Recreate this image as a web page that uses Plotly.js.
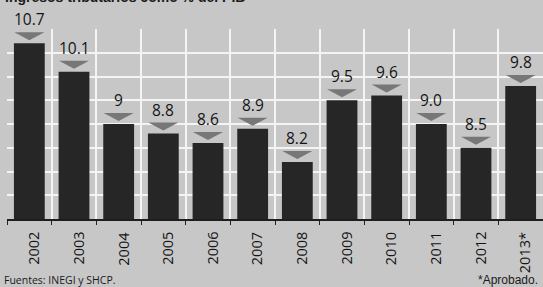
<!DOCTYPE html>
<html>
<head>
<meta charset="utf-8">
<script src="https://cdn.plot.ly/plotly-3.0.1.min.js"></script>
<style>html,body{margin:0;padding:0;background:#c7c7c7;}#chart{width:543px;height:287px;}</style>
</head>
<body>
<div id="chart"></div>
<script>
const years = ["2002","2003","2004","2005","2006","2007","2008","2009","2010","2011","2012","2013*"];
const values = [10.7, 10.1, 9.0, 8.8, 8.6, 8.9, 8.2, 9.5, 9.6, 9.0, 8.5, 9.8];
const valueLabels = ["10.7","10.1","9","8.8","8.6","8.9","8.2","9.5","9.6","9.0","8.5","9.8"];
const titleText = "Ingresos tributarios como % del PIB";
const sourceText = "Fuentes: INEGI y SHCP.";
const noteText = "*Aprobado.";

const bars = {
  type: 'bar', x: years, y: values, width: 0.69,
  marker: {color: '#262626', line: {width: 0}},
  hoverinfo: 'skip'
};

const shapes = years.map((c, i) => ({
  type: 'path', xref: 'x', yref: 'y', xsizemode: 'pixel', ysizemode: 'pixel',
  xanchor: i, yanchor: values[i],
  path: 'M-15,11 L15,11 L0,3 Z',
  fillcolor: '#777777', line: {width: 0}, layer: 'above'
}));

const annotations = [];
years.forEach((c, i) => {
  annotations.push({
    xref: 'x', yref: 'y', x: i, y: values[i], yanchor: 'bottom', yshift: 11,
    text: valueLabels[i], showarrow: false,
    font: {family: 'Open Sans', size: 15.5, color: '#141414'}
  });
  annotations.push({
    xref: 'x', yref: 'paper', x: i, y: 0, yanchor: 'top', xanchor: 'center', xshift: 4, yshift: -11,
    text: c, textangle: -90, showarrow: false,
    font: {family: 'Open Sans', size: 14.5, color: '#141414'}
  });
});
annotations.push({
  xref: 'paper', yref: 'paper', x: 0, xanchor: 'left', xshift: -4, y: 1, yanchor: 'bottom', yshift: 22,
  text: '<b>' + titleText + '</b>', showarrow: false,
  font: {family: 'Liberation Sans', size: 14, color: '#1a1a1a'}
});
annotations.push({
  xref: 'paper', yref: 'paper', x: 0, xanchor: 'left', xshift: -5, y: 0, yanchor: 'top', yshift: -52,
  text: sourceText, showarrow: false,
  font: {family: 'Open Sans', size: 10.5, color: '#1a1a1a'}
});
annotations.push({
  xref: 'paper', yref: 'paper', x: 1, xanchor: 'right', xshift: -3, y: 0, yanchor: 'top', yshift: -52,
  text: noteText, showarrow: false,
  font: {family: 'Liberation Sans', size: 12, color: '#1a1a1a'}
});

const layout = {
  width: 543, height: 287,
  margin: {l: 7, r: 0, t: 29, b: 68},
  paper_bgcolor: '#c7c7c7', plot_bgcolor: '#c7c7c7',
  showlegend: false,
  xaxis: {
    type: 'category', tickson: 'boundaries', showgrid: true, gridcolor: '#f4f4f4', gridwidth: 2,
    ticks: 'outside', ticklen: 4, tickcolor: '#222', tickwidth: 1,
    showline: true, linecolor: '#1e1e1e', linewidth: 2, showticklabels: false,
    range: [-0.5, 11.5]
  },
  yaxis: {
    range: [7, 11], dtick: 0.5, tick0: 7, showgrid: true, gridcolor: '#f4f4f4', gridwidth: 2,
    showticklabels: false, zeroline: false, showline: false, ticks: ''
  },
  shapes: shapes,
  annotations: annotations
};

Plotly.newPlot('chart', [bars], layout, {displayModeBar: false, staticPlot: true});
</script>
</body>
</html>
